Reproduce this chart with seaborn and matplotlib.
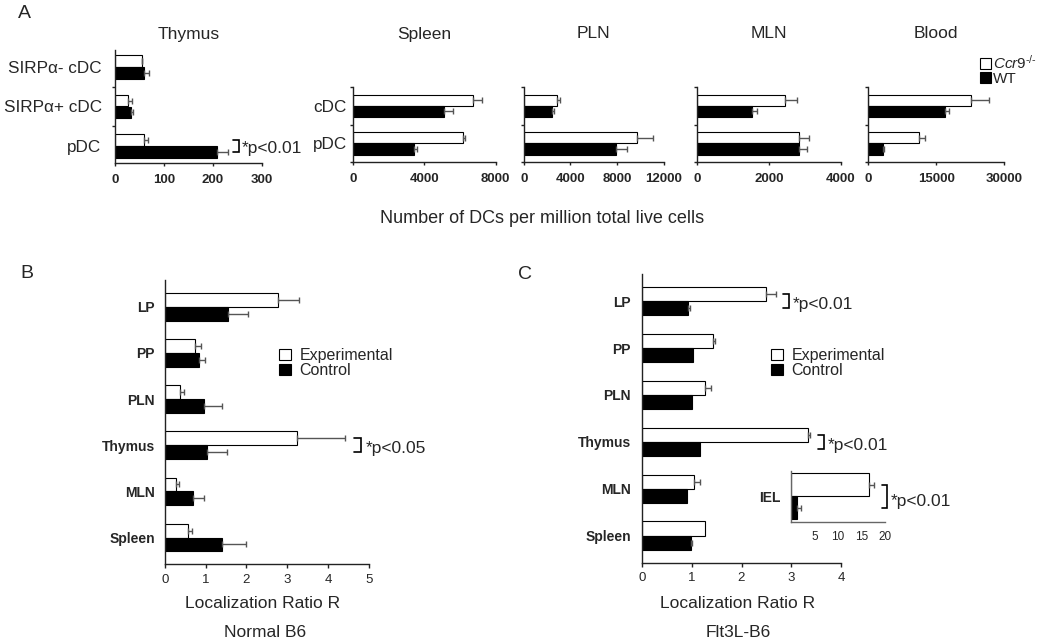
import numpy as np
import pandas as pd
import matplotlib
matplotlib.use("Agg")
import matplotlib.pyplot as plt
from matplotlib.container import BarContainer
import seaborn as sns

# ---------------- data ----------------
groups_a = ["Ccr9-/-", "WT"]
groups_bc = ["Experimental", "Control"]

thymus_cells = ["SIRPα- cDC", "SIRPα+ cDC", "pDC"]
thymus_ccr9 = [55, 26, 60]
thymus_ccr9_err = [1, 8, 8]
thymus_wt = [60, 33, 209]
thymus_wt_err = [10, 4, 22]

dc_cells = ["cDC", "pDC"]
spleen_ccr9 = [6750, 6150]
spleen_ccr9_err = [470, 150]
spleen_wt = [5130, 3430]
spleen_wt_err = [470, 190]

pln_ccr9 = [2880, 9720]
pln_ccr9_err = [220, 1310]
pln_wt = [2390, 7900]
pln_wt_err = [180, 900]

mln_ccr9 = [2430, 2840]
mln_ccr9_err = [335, 260]
mln_wt = [1520, 2820]
mln_wt_err = [130, 220]

blood_ccr9 = [22700, 11280]
blood_ccr9_err = [4060, 1320]
blood_wt = [16880, 3320]
blood_wt_err = [1020, 140]

thymus_ticks = [0, 100, 200, 300]
spleen_ticks = [0, 4000, 8000]
pln_ticks = [0, 4000, 8000, 12000]
mln_ticks = [0, 2000, 4000]
blood_ticks = [0, 15000, 30000]

tissues = ["LP", "PP", "PLN", "Thymus", "MLN", "Spleen"]
b6_exp = [2.77, 0.75, 0.38, 3.24, 0.28, 0.57]
b6_exp_err = [0.52, 0.15, 0.10, 1.18, 0.07, 0.11]
b6_ctl = [1.54, 0.83, 0.97, 1.04, 0.69, 1.40]
b6_ctl_err = [0.51, 0.15, 0.44, 0.48, 0.28, 0.58]

flt_exp = [2.49, 1.42, 1.26, 3.33, 1.04, 1.26]
flt_exp_err = [0.20, 0.05, 0.13, 0.05, 0.12, 0.0]
flt_ctl = [0.92, 1.03, 1.00, 1.17, 0.91, 0.98]
flt_ctl_err = [0.04, 0.0, 0.0, 0.0, 0.0, 0.02]

iel_cells = ["IEL"]
iel_exp = [16.5]
iel_exp_err = [1.2]
iel_ctl = [1.3]
iel_ctl_err = [0.8]

b_ticks = [0, 1, 2, 3, 4, 5]
c_ticks = [0, 1, 2, 3, 4]
iel_ticks = [5, 10, 15, 20]

# ---------------- style ----------------
sns.set_style("ticks")
plt.rcParams["font.family"] = ["Liberation Sans", "DejaVu Sans"]
plt.rcParams["mathtext.fontset"] = "custom"
plt.rcParams["mathtext.rm"] = "Liberation Sans"
plt.rcParams["mathtext.it"] = "Liberation Sans:italic"

W, H = 1050, 639
fig = plt.figure(figsize=(W / 100, H / 100), dpi=100)


def rect(left, right, top, bottom):
    return [left / W, 1 - bottom / H, (right - left) / W, (bottom - top) / H]


SPINE = "#222222"
ERRC = "#555555"


def make_df(cats, v1, v2, groups):
    return pd.DataFrame({
        "cell": list(cats) * 2,
        "value": list(v1) + list(v2),
        "group": [groups[0]] * len(cats) + [groups[1]] * len(cats),
    })


def bar_containers(ax):
    return [c for c in ax.containers if isinstance(c, BarContainer)]


def draw(ax, cats, v1, e1, v2, e2, groups):
    df = make_df(cats, v1, v2, groups)
    sns.barplot(data=df, y="cell", x="value", hue="group", hue_order=groups,
                order=cats, palette={groups[0]: "white", groups[1]: "black"},
                orient="h", width=0.6, saturation=1, edgecolor="black",
                linewidth=0.8, errorbar=None, legend=False, ax=ax)
    for cont, errs in zip(bar_containers(ax), [e1, e2]):
        for bar in cont:
            yc = bar.get_y() + bar.get_height() / 2
            idx = int(round(yc))
            e = errs[idx]
            if e > 0:
                ax.errorbar(bar.get_width(), yc, xerr=[[0], [e]], fmt="none",
                            ecolor=ERRC, elinewidth=1, capsize=2.2, capthick=1)
    ax.set_xlabel("")
    ax.set_ylabel("")
    ax.set_yticks(np.arange(len(cats)))
    sns.despine(ax=ax)
    for s in ["left", "bottom"]:
        ax.spines[s].set_color(SPINE)
        ax.spines[s].set_linewidth(1.0)
    return ax


def centers(ax, idx):
    ys = []
    for cont in bar_containers(ax):
        for bar in cont:
            yc = bar.get_y() + bar.get_height() / 2
            if int(round(yc)) == idx:
                ys.append(yc)
    return ys


def sig(ax, idx, x0, x1, xt, text, size=12.5):
    yw, yb = centers(ax, idx)
    ax.plot([x0, x1, x1, x0], [yw, yw, yb, yb], color="black", lw=1.2,
            clip_on=False, solid_joinstyle="miter")
    ax.text(xt, (yw + 3 * yb) / 4, text, ha="left", va="center", fontsize=size,
            clip_on=False)


# ---------------- Panel A ----------------
panel_a = [
    ("Thymus", thymus_cells, thymus_ccr9, thymus_ccr9_err, thymus_wt, thymus_wt_err,
     thymus_ticks, (115, 262, 50, 163), True, 9.6),
    ("Spleen", dc_cells, spleen_ccr9, spleen_ccr9_err, spleen_wt, spleen_wt_err,
     spleen_ticks, (352.7, 495.7, 87, 162), True, 4.3),
    ("PLN", dc_cells, pln_ccr9, pln_ccr9_err, pln_wt, pln_wt_err,
     pln_ticks, (523.7, 664, 87, 162), False, 4),
    ("MLN", dc_cells, mln_ccr9, mln_ccr9_err, mln_wt, mln_wt_err,
     mln_ticks, (697.3, 841, 87, 162), False, 4),
    ("Blood", dc_cells, blood_ccr9, blood_ccr9_err, blood_wt, blood_wt_err,
     blood_ticks, (868.3, 1004, 87, 162), False, 4),
]

axes_a = []
for title, cats, v1, e1, v2, e2, ticks, r, show_y, ypad in panel_a:
    ax = fig.add_axes(rect(*r))
    draw(ax, cats, v1, e1, v2, e2, groups_a)
    ax.set_xlim(ticks[0], ticks[-1])
    ax.set_xticks(ticks)
    ax.set_xticklabels([str(t) for t in ticks], fontsize=9.5, fontweight="bold")
    ax.tick_params(axis="x", direction="out", length=2.5, width=1, pad=5.5, color=SPINE)
    n = len(cats)
    ax.set_yticks(np.arange(-0.5, n, 1.0), minor=True)
    ax.tick_params(axis="y", which="minor", direction="out", length=2.5, width=1, color=SPINE)
    ax.tick_params(axis="y", which="major", length=0, pad=ypad)
    if show_y:
        ax.set_yticklabels(cats, fontsize=12.3)
    else:
        ax.set_yticklabels([])
    top_px = r[2]
    ax.set_title(title, fontsize=12.5, pad=(top_px - 38.5) * 0.72)
    axes_a.append(ax)

sig(axes_a[0], 2, 241, 253, 258, "*p<0.01")

leg_handles = [plt.Rectangle((0, 0), 1, 1, facecolor=c, edgecolor="black", lw=0.8)
               for c in ["white", "black"]]
fig.legend(leg_handles, [r"$\mathit{Ccr9}^{\mathit{‐/‐}}$", "WT"],
           loc="upper left", bbox_to_anchor=(980 / W, 1 - 54 / H),
           frameon=False, fontsize=11, handlelength=0.72, handleheight=0.72,
           handletextpad=0.15, labelspacing=0.0, borderpad=0, borderaxespad=0)

fig.text(542 / W, 1 - 223.3 / H, "Number of DCs per million total live cells",
         ha="center", va="baseline", fontsize=13)

# ---------------- Panel B ----------------
ax_b = fig.add_axes(rect(164.7, 369, 280, 564.3))
draw(ax_b, tissues, b6_exp, b6_exp_err, b6_ctl, b6_ctl_err, groups_bc)
ax_b.set_xlim(b_ticks[0], b_ticks[-1])
ax_b.set_xticks(b_ticks)
ax_b.set_xticklabels([str(t) for t in b_ticks], fontsize=9.5)
ax_b.tick_params(axis="x", direction="out", length=3, width=1, pad=4, color=SPINE)
ax_b.tick_params(axis="y", length=0, pad=7)
ax_b.set_yticklabels(tissues, fontsize=10, fontweight="bold")
sig(ax_b, 3, 4.63, 4.80, 4.93, "*p<0.05")

fig.legend(leg_handles, groups_bc, loc="upper left",
           bbox_to_anchor=(279 / W, 1 - 348 / H), frameon=False, fontsize=11.5,
           handlelength=0.72, handleheight=0.72, handletextpad=0.55,
           labelspacing=0.0, borderpad=0, borderaxespad=0)

fig.text(263 / W, 1 - 607.7 / H, "Localization Ratio R", ha="center",
         va="baseline", fontsize=12.5)
fig.text(265.4 / W, 1 - 636.7 / H, "Normal B6", ha="center",
         va="baseline", fontsize=12.5)

# ---------------- Panel C ----------------
ax_c = fig.add_axes(rect(642, 841, 274, 562.7))
draw(ax_c, tissues, flt_exp, flt_exp_err, flt_ctl, flt_ctl_err, groups_bc)
ax_c.set_xlim(c_ticks[0], c_ticks[-1])
ax_c.set_xticks(c_ticks)
ax_c.set_xticklabels([str(t) for t in c_ticks], fontsize=9.5)
ax_c.tick_params(axis="x", direction="out", length=3, width=1, pad=4, color=SPINE)
ax_c.tick_params(axis="y", length=0, pad=8)
ax_c.set_yticklabels(tissues, fontsize=10, fontweight="bold")
sig(ax_c, 0, 2.83, 2.95, 3.03, "*p<0.01")
sig(ax_c, 3, 3.53, 3.65, 3.74, "*p<0.01")

fig.legend(leg_handles, groups_bc, loc="upper left",
           bbox_to_anchor=(771 / W, 1 - 348 / H), frameon=False, fontsize=11.5,
           handlelength=0.72, handleheight=0.72, handletextpad=0.55,
           labelspacing=0.0, borderpad=0, borderaxespad=0)

fig.text(737.5 / W, 1 - 607.7 / H, "Localization Ratio R", ha="center",
         va="baseline", fontsize=12.5)
fig.text(738 / W, 1 - 636.7 / H, "Flt3L-B6", ha="center",
         va="baseline", fontsize=12.5)

# inset IEL
ax_i = fig.add_axes(rect(791.2, 885, 470.7, 521.7))
draw(ax_i, iel_cells, iel_exp, iel_exp_err, iel_ctl, iel_ctl_err, groups_bc)
ax_i.set_xlim(0, 20)
ax_i.set_xticks(iel_ticks)
ax_i.set_xticklabels([str(t) for t in iel_ticks], fontsize=8.5)
ax_i.tick_params(axis="x", length=0, pad=6.5)
ax_i.tick_params(axis="y", length=0, pad=8)
ax_i.set_yticklabels(iel_cells, fontsize=10, fontweight="bold")
for s in ["left", "bottom"]:
    ax_i.spines[s].set_color("#666666")
sig(ax_i, 0, 19.3, 20.4, 21.3, "*p<0.01")

# panel letters
fig.text(18 / W, 1 - 18.5 / H, "A", fontsize=14, va="baseline")
fig.text(20 / W, 1 - 278 / H, "B", fontsize=14, va="baseline")
fig.text(518 / W, 1 - 279 / H, "C", fontsize=14, va="baseline")

fig.savefig("out.png", dpi=100)
